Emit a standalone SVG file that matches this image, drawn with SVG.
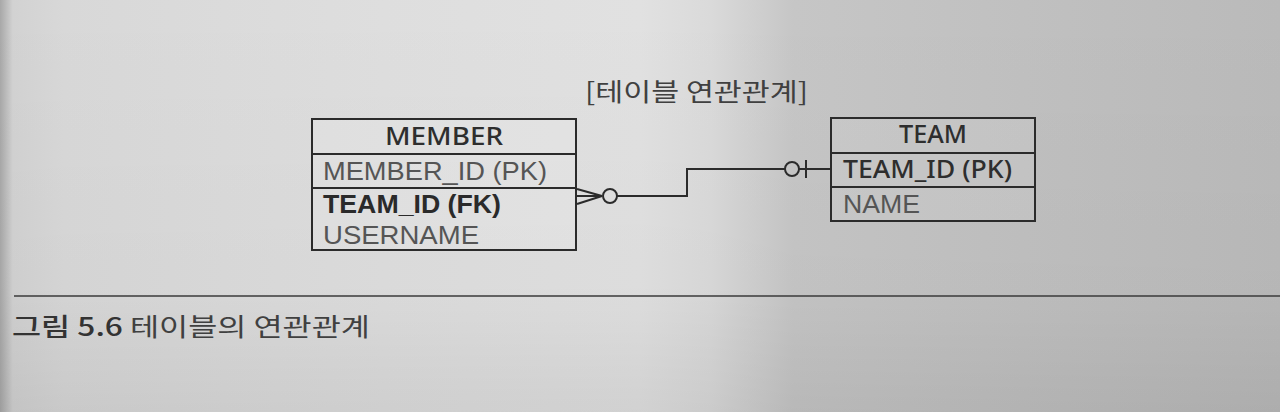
<svg xmlns="http://www.w3.org/2000/svg" width="1280" height="412" viewBox="0 0 1280 412">
  <defs>
    <linearGradient id="bg" x1="0" y1="0" x2="1" y2="0">
      <stop offset="0" stop-color="#a8a8a8"/>
      <stop offset="0.01" stop-color="#d2d2d2"/>
      <stop offset="0.05" stop-color="#d8d8d8"/>
      <stop offset="0.3" stop-color="#dedede"/>
      <stop offset="0.5" stop-color="#e1e1e1"/>
      <stop offset="0.555" stop-color="#dadada"/>
      <stop offset="0.62" stop-color="#c6c6c6"/>
      <stop offset="0.8" stop-color="#c0c0c0"/>
      <stop offset="1" stop-color="#bababa"/>
    </linearGradient>
    <linearGradient id="shade" x1="0" y1="0" x2="0" y2="1">
      <stop offset="0" stop-color="#000" stop-opacity="0"/>
      <stop offset="0.7" stop-color="#000" stop-opacity="0.02"/>
      <stop offset="1" stop-color="#000" stop-opacity="0.07"/>
    </linearGradient>
    <style>
      .box { fill: #ffffff; fill-opacity: 0.12; stroke: #2b2b2b; stroke-width: 2; }
      .div { stroke: #2b2b2b; stroke-width: 2; }
      .t { font-family: "Liberation Sans", "Noto Sans", "Noto Sans CJK KR", sans-serif; font-size: 26px; fill: #3a3a3a; }
      .b { font-weight: bold; fill: #2a2a2a; }
      .m { font-family: "Noto Sans", "Liberation Sans", sans-serif; font-weight: 500; fill: #2e2e2e; }
      .light { fill: #555; }
      .ko { font-family: "Noto Sans CJK KR", "Noto Sans", sans-serif; font-size: 25px; fill: #404040; }
      .conn { fill: none; stroke: #2b2b2b; stroke-width: 2; }
    </style>
  </defs>

  <rect x="0" y="0" width="1280" height="412" fill="url(#bg)"/>
  <rect x="0" y="0" width="1280" height="412" fill="url(#shade)"/>

  <text class="ko" x="585" y="101" textLength="223" lengthAdjust="spacingAndGlyphs">[테이블 연관관계]</text>

  <g id="member">
    <rect class="box" x="312" y="119" width="264" height="131"/>
    <line class="div" x1="312" y1="154" x2="576" y2="154"/>
    <line class="div" x1="312" y1="188" x2="576" y2="188"/>
    <text class="t m" x="385" y="145" font-size="25" textLength="118" lengthAdjust="spacingAndGlyphs">MEMBER</text>
    <text class="t light" x="323" y="180" textLength="224" lengthAdjust="spacingAndGlyphs">MEMBER_ID (PK)</text>
    <text class="t b" x="323" y="213" textLength="178" lengthAdjust="spacingAndGlyphs">TEAM_ID (FK)</text>
    <text class="t light" x="323" y="244" textLength="156" lengthAdjust="spacingAndGlyphs">USERNAME</text>
  </g>

  <g id="team">
    <rect class="box" x="831" y="118" width="204" height="103" style="fill-opacity:0.08"/>
    <line class="div" x1="831" y1="153" x2="1035" y2="153"/>
    <line class="div" x1="831" y1="187" x2="1035" y2="187"/>
    <text class="t m" x="899" y="143" font-size="25" textLength="68" lengthAdjust="spacingAndGlyphs">TEAM</text>
    <text class="t m" x="843" y="178" textLength="169" lengthAdjust="spacingAndGlyphs">TEAM_ID (PK)</text>
    <text class="t light" x="843" y="213" textLength="77" lengthAdjust="spacingAndGlyphs">NAME</text>
  </g>

  <g id="connectors">
    <line class="conn" x1="577" y1="189" x2="602" y2="196"/>
    <line class="conn" x1="577" y1="204" x2="602" y2="196"/>
    <line class="conn" x1="577" y1="196" x2="602" y2="196"/>
    <circle class="conn" cx="610" cy="196" r="7"/>
    <polyline class="conn" points="617,196 687,196 687,169 785,169"/>
    <circle class="conn" cx="792" cy="169" r="7"/>
    <line class="conn" x1="799" y1="169" x2="830" y2="169"/>
    <line class="conn" x1="806" y1="160" x2="806" y2="178"/>
  </g>

  <line x1="14" y1="296" x2="1280" y2="296" stroke="#3a3a3a" stroke-width="1.5"/>
  <text class="ko" x="12" y="336" font-size="26" textLength="358" lengthAdjust="spacingAndGlyphs"><tspan font-weight="500" fill="#333">그림 5.6</tspan> 테이블의 연관관계</text>
</svg>
